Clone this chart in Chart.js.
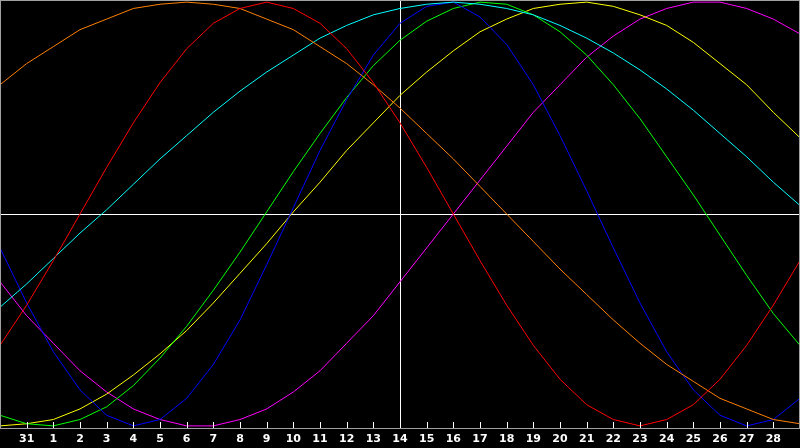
<!DOCTYPE html>
<html>
<head>
<meta charset="utf-8">
<style>
  html, body { margin: 0; padding: 0; background: #000; }
  #wrap { width: 800px; height: 448px; }
  canvas { display: block; background: #000; }
</style>
<script src="https://cdn.jsdelivr.net/npm/chart.js@4/dist/chart.umd.min.js"></script>
</head>
<body>
<div id="wrap"><canvas id="bioChart" width="800" height="448"></canvas></div>
<script>
// ==============================
// Day labels (index 0..30 on x)
// ==============================
const dayLabels = [
    "", "31", "1", "2", "3", "4", "5", "6", "7", "8", "9", "10", "11", "12", "13", "14",
    "15", "16", "17", "18", "19", "20", "21", "22", "23", "24", "25", "26", "27", "28", ""
];
const todayIndex = 15;   // day 14, the white cross line

// ===========================
// Curves, one value per day
// ===========================
const redValues = [
    -62, -43, -22, 0, 22, 43, 62, 78, 90, 97, 100, 97, 90, 78, 62, 43,
    22, 0, -22, -43, -62, -78, -90, -97, -100, -97, -90, -78, -62, -43, -22
];
const orangeValues = [
    61, 71, 79, 87, 92, 97, 99, 100, 99, 97, 92, 87, 79, 71, 61, 50,
    38, 26, 13, 0, -13, -26, -38, -50, -61, -71, -79, -87, -92, -97, -99
];
const cyanValues = [
    -44, -33, -21, -9, 2, 14, 26, 37, 48, 58, 67, 75, 83, 89, 94, 97,
    99, 100, 99, 97, 94, 89, 83, 76, 68, 59, 49, 38, 27, 15, 4
];
const blueValues = [
    -16, -42, -65, -83, -95, -100, -97, -87, -71, -50, -24, 3, 30, 54, 75, 90,
    98, 100, 93, 80, 61, 37, 11, -16, -42, -65, -83, -95, -100, -97, -87
];
const greenValues = [
    -95, -99, -100, -97, -91, -81, -68, -53, -36, -18, 1, 20, 38, 55, 70, 82,
    91, 97, 100, 99, 94, 86, 75, 61, 45, 27, 9, -10, -29, -47, -62
];
const yellowValues = [
    -100, -99, -97, -92, -85, -76, -66, -55, -42, -28, -14, 1, 15, 30, 43, 56,
    67, 77, 86, 92, 97, 99, 100, 98, 94, 89, 81, 71, 61, 48, 36
];
const magentaValues = [
    -32, -48, -61, -74, -84, -92, -97, -100, -100, -97, -92, -84, -74, -61, -48, -32,
    -16, 0, 16, 32, 48, 61, 74, 84, 92, 97, 100, 100, 97, 92, 85
];

const seriesList = [
    { values: redValues,     color: "#ff0000" },
    { values: orangeValues,  color: "#ff8000" },
    { values: cyanValues,    color: "#00ffff" },
    { values: blueValues,    color: "#0000ff" },
    { values: greenValues,   color: "#00ff00" },
    { values: yellowValues,  color: "#ffff00" },
    { values: magentaValues, color: "#ff00ff" }
];

const frameGray = "#a0a0a0";

// small inside tick marks + frame around the plot
const frameTicks = {
    id: "frameTicks",
    afterDraw(chart) {
        const { ctx, chartArea, scales } = chart;
        ctx.save();
        ctx.lineWidth = 1;
        ctx.strokeStyle = frameGray;
        ctx.strokeRect(chartArea.left + 0.5, chartArea.top + 0.5,
            chartArea.right - chartArea.left - 1, chartArea.bottom - chartArea.top);

        ctx.strokeStyle = "#ffffff";
        const yBase = Math.round(chartArea.bottom);
        scales.x.ticks.forEach(t => {
            if (!dayLabels[t.value]) return;
            const x = Math.round(scales.x.getPixelForValue(t.value)) + 0.5;
            ctx.beginPath();
            ctx.moveTo(x, yBase);
            ctx.lineTo(x, yBase - 6);
            ctx.stroke();
        });
        ctx.restore();
    }
};

const chart = new Chart(document.getElementById("bioChart"), {
    type: "line",
    data: {
        datasets: seriesList.map(s => ({
            data: s.values.map((v, i) => ({ x: i, y: v })),
            borderColor: s.color,
            borderWidth: 1,
            pointRadius: 0,
            tension: 0,
            fill: false
        }))
    },
    options: {
        responsive: false,
        devicePixelRatio: 1,
        animation: false,
        layout: { padding: { left: 0, right: 0, top: 0, bottom: -2 } },
        plugins: {
            legend: { display: false },
            tooltip: { enabled: false }
        },
        scales: {
            x: {
                type: "linear",
                min: 0,
                max: 30,
                border: { display: true, color: frameGray },
                grid: {
                    drawTicks: false,
                    color: c => c.tick && c.tick.value === todayIndex ? "#ffffff" : "rgba(0,0,0,0)"
                },
                ticks: {
                    stepSize: 1,
                    autoSkip: false,
                    maxRotation: 0,
                    padding: 0,
                    color: "#ffffff",
                    font: { family: "DejaVu Sans", size: 11, weight: "bold", lineHeight: "22px" },
                    callback: v => dayLabels[v]
                }
            },
            y: {
                min: -101,
                max: 101,
                border: { display: true, color: frameGray },
                grid: {
                    drawTicks: false,
                    color: c => c.tick && c.tick.value === 0 ? "#ffffff" : "rgba(0,0,0,0)"
                },
                ticks: { display: false, stepSize: 101 }
            }
        }
    },
    plugins: [frameTicks]
});
</script>
</body>
</html>
